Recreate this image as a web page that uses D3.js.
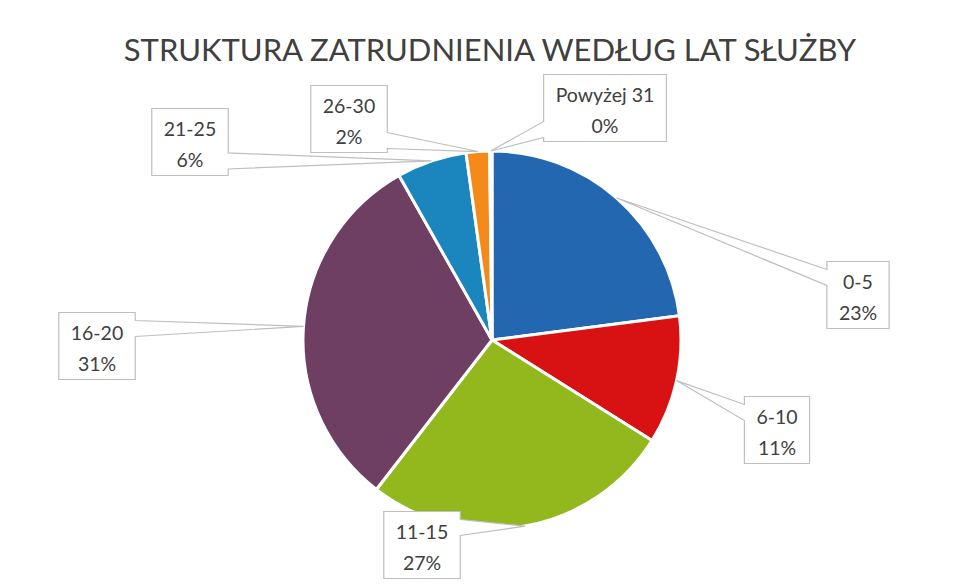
<!DOCTYPE html>
<html>
<head>
<meta charset="utf-8">
<script src="https://cdn.jsdelivr.net/npm/d3@7"></script>
<style>
  body { margin: 0; background: #fff; }
  svg { display: block; }
</style>
</head>
<body>
<div id="chart"></div>
<script>
// data
var categories = ["0-5", "6-10", "11-15", "16-20", "21-25", "26-30", "Powyżej 31"];
var values = [23, 11, 26.6, 31.4, 6, 2, 0.2];
var colours = ["#2467b1", "#d81212", "#92b81e", "#6e3f63", "#1b86bd", "#f48a1a", "#a5352a"];

// hand-placed label boxes (centre of each callout), like in the excel file
var labelCentres = [[858, 295], [777, 430], [422, 545], [97, 346], [190, 142], [349, 119], [605, 108]];

var width = 967, height = 588;
var centre = {x: 492, y: 340};
var radius = 189;

var svg = d3.select("#chart").append("svg")
  .attr("width", width)
  .attr("height", height);

svg.append("text")
  .attr("x", 490)
  .attr("y", 61)
  .attr("text-anchor", "middle")
  .attr("font-family", "Lato, 'Open Sans', sans-serif")
  .attr("font-size", 31)
  .attr("fill", "#404040")
  .text("STRUKTURA ZATRUDNIENIA WEDŁUG LAT SŁUŻBY");

var pie = d3.pie().sort(null).value(d => d);
var arcs = pie(values);
var arc = d3.arc().innerRadius(0).outerRadius(radius);

var g = svg.append("g").attr("transform", `translate(${centre.x},${centre.y})`);

g.selectAll(".slice")
  .data(arcs)
  .enter()
  .append("path")
  .attr("class", "slice")
  .attr("d", arc)
  .attr("fill", (d, i) => colours[i])
  .attr("stroke", "#fff")
  .attr("stroke-width", 3)
  .attr("stroke-linejoin", "round");

var total = d3.sum(values);

// callouts
var labels = svg.append("g");
arcs.forEach(function(d, i) {
  var mid = (d.startAngle + d.endAngle) / 2;
  var ax = centre.x + radius * Math.sin(mid);
  var ay = centre.y - radius * Math.cos(mid);
  var pct = Math.round(d.value / total * 100) + "%";

  var lg = labels.append("g");
  var t1 = lg.append("text").text(categories[i]);
  var t2 = lg.append("text").text(pct);
  lg.selectAll("text")
    .attr("font-family", "Lato, 'Open Sans', sans-serif")
    .attr("font-size", 19.5)
    .attr("fill", "#404040")
    .attr("text-anchor", "middle");

  var tw = Math.max(t1.node().getComputedTextLength(), t2.node().getComputedTextLength());
  var bw = tw + 24, bh = 67;
  var cx = labelCentres[i][0], cy = labelCentres[i][1];
  var l = cx - bw / 2, r = cx + bw / 2, t = cy - bh / 2, b = cy + bh / 2;
  var yc = Math.max(t + 16, Math.min(b - 12, ay));
  var h = 8;
  var pts;
  if (ax < l) {
    pts = [[l, t], [r, t], [r, b], [l, b], [l, yc + h], [ax, ay], [l, yc - h]];
  } else {
    pts = [[l, t], [r, t], [r, yc - h], [ax, ay], [r, yc + h], [r, b], [l, b]];
  }
  lg.insert("path", "text")
    .attr("d", "M" + pts.join("L") + "Z")
    .attr("fill", "#fff")
    .attr("stroke", "#bfbfbf")
    .attr("stroke-width", 1.2);

  t1.attr("x", cx).attr("y", t + 27);
  t2.attr("x", cx).attr("y", t + 58);
});
</script>
</body>
</html>
